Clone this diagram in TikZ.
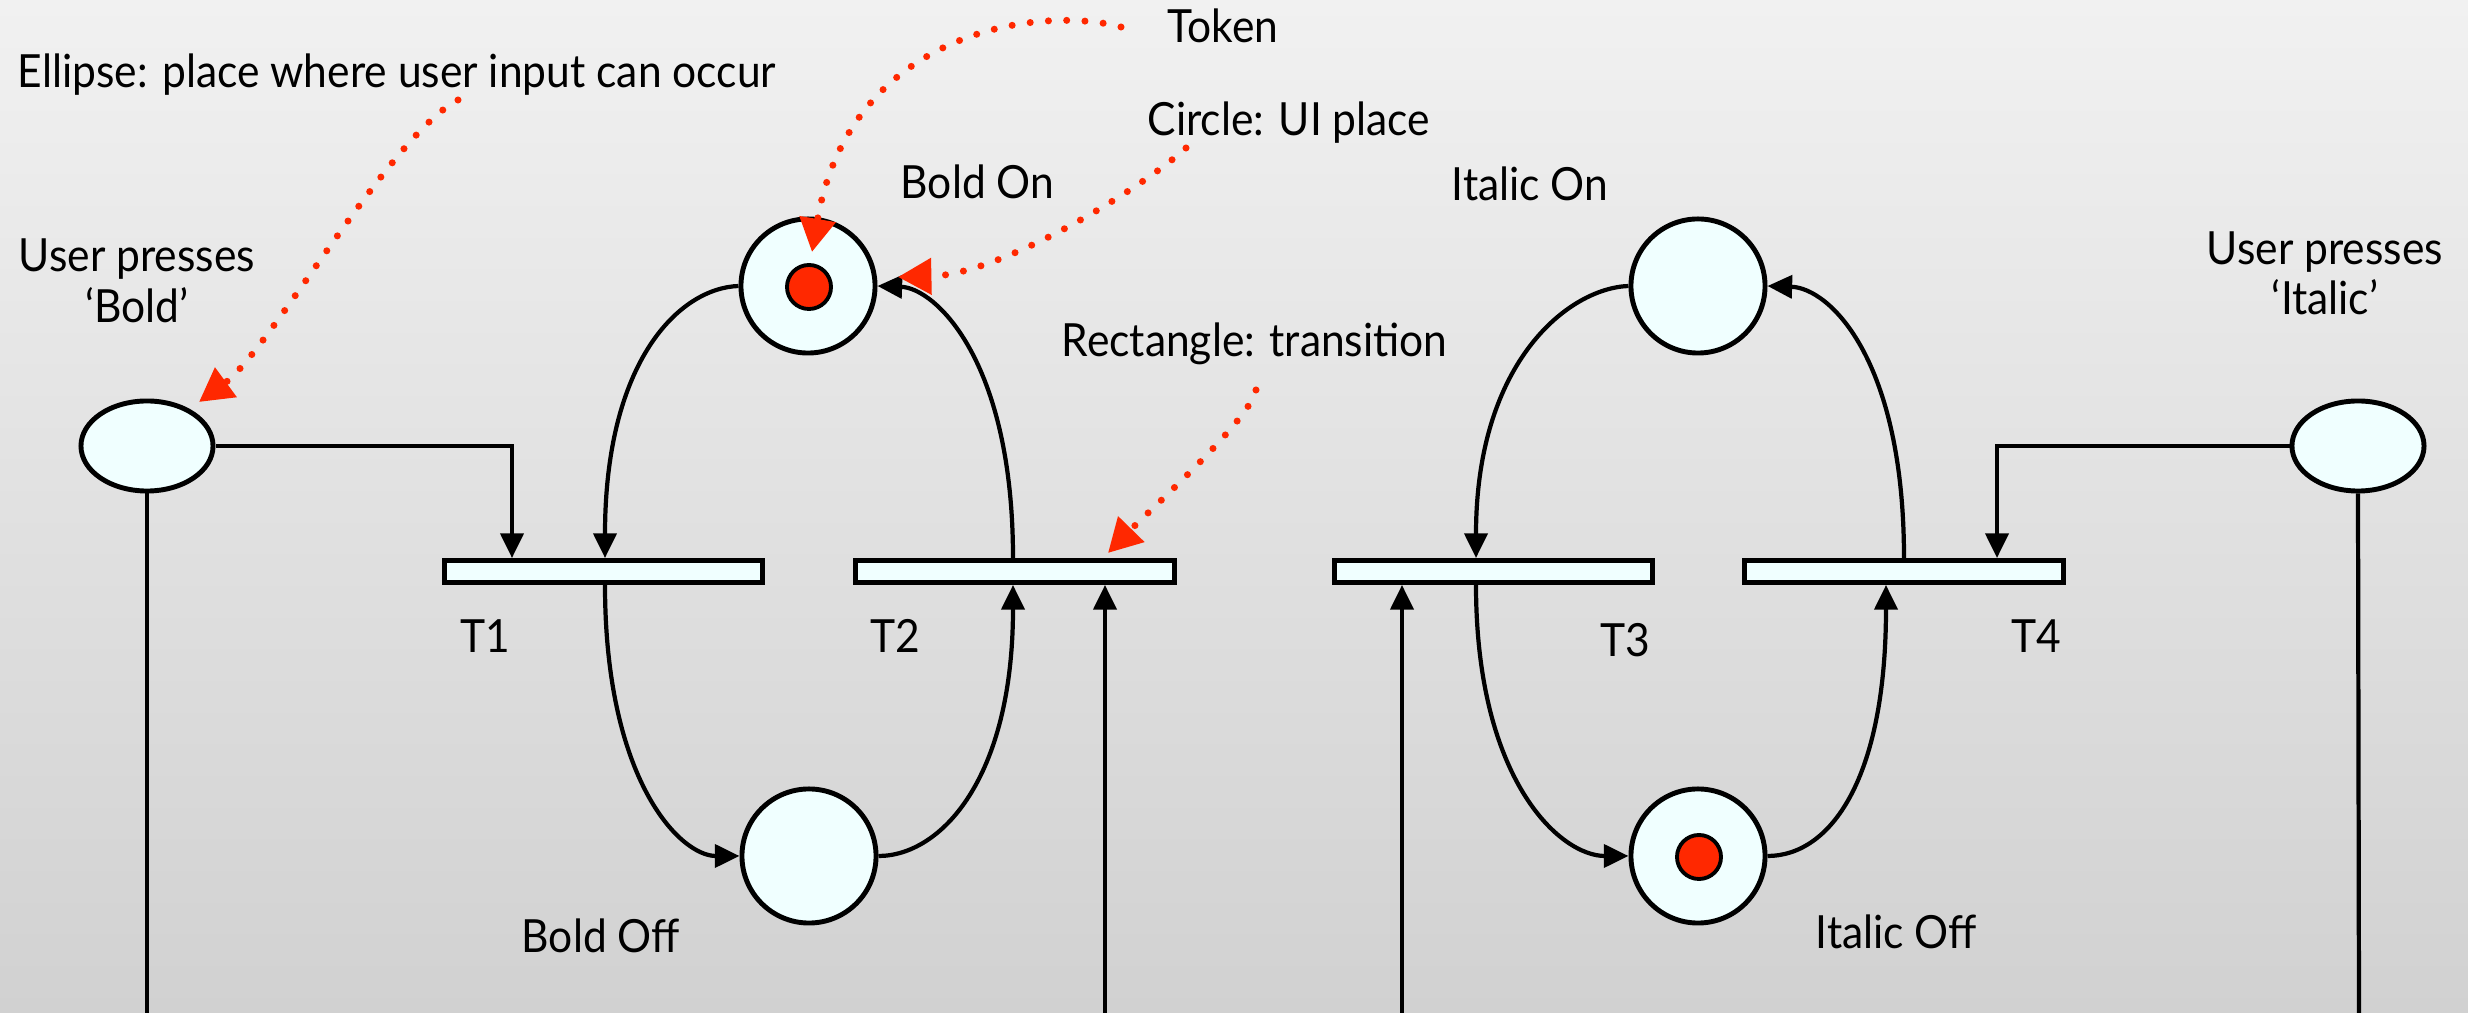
\documentclass[tikz,border=0pt]{standalone}
\usepackage{fontspec}
\setmainfont{Lato}[FakeStretch=0.93]
\usetikzlibrary{arrows.meta,shapes.geometric,calc}
\definecolor{tokred}{RGB}{255,40,0}
\definecolor{placefill}{RGB}{240,255,255}
\definecolor{bgtop}{RGB}{241,241,241}
\definecolor{bgbot}{RGB}{209,209,209}
\begin{document}
\begin{tikzpicture}[x=0.01cm,y=-0.01cm,
  place/.style={circle,draw,line width=1.4pt,fill=placefill,minimum size=1.34cm,inner sep=0pt},
  inplace/.style={ellipse,draw,line width=1.4pt,fill=placefill,minimum width=1.32cm,minimum height=0.90cm,inner sep=0pt},
  trans/.style={rectangle,draw,line width=1.4pt,fill=placefill,minimum width=3.18cm,minimum height=0.22cm,inner sep=0pt},
  token/.style={circle,draw,line width=1.1pt,fill=tokred,minimum size=0.44cm,inner sep=0pt},
  lbl/.style={font=\fontsize{13}{14.5}\selectfont,inner sep=0pt,anchor=base west},
  clbl/.style={font=\fontsize{13}{14.5}\selectfont,inner sep=0pt,anchor=base,align=center},
  arc/.style={line width=1.2pt,-{Triangle[length=7pt,width=6.5pt]}},
  wire/.style={line width=1.2pt},
  pointer/.style={tokred,line width=2pt,line cap=round,dash pattern=on 0pt off 5.2pt,-{Triangle[length=9.5pt,width=10pt]}}
]
\useasboundingbox (0,0) rectangle (2468,1013);
\shade[top color=bgtop,bottom color=bgbot] (0,0) rectangle (2468,1013);

% places and transitions
\node[place] (bon) at (808,286) {};
\node[place] (boff) at (809,856) {};
\node[token] (tk1) at (809,287) {};
\node[inplace] (ub) at (147,446) {};
\node[trans] (t1) at (603.5,571.5) {};
\node[trans] (t2) at (1015,571.5) {};
\node[place] (ion) at (1698,286) {};
\node[place] (ioff) at (1698,856) {};
\node[token] (tk2) at (1699,857) {};
\node[inplace] (ui) at (2358,446) {};
\node[trans] (t3) at (1493.5,571.5) {};
\node[trans] (t4) at (1904,571.5) {};

\coordinate (bl) at (147,1016);
\coordinate (br) at (1105,1016);
\coordinate (il) at (1402,1016);
\coordinate (ir) at (2359,1016);

% labels
\node[lbl] (lell) at (17,88) {Ellipse: place where user input can occur};
\node[lbl] (ltok) at (1167,43) {Token};
\node[lbl] (lcir) at (1147,136) {Circle: UI place};
\node[lbl] (lrec) at (1061,357) {Rectangle: transition};
\node[lbl] (lbon) at (900,199) {Bold On};
\node[lbl] (lboff) at (521,953) {Bold Off};
\node[lbl] (lion) at (1451,201) {Italic On};
\node[lbl] (lioff) at (1815,949) {Italic Off};
\node[lbl] (lt1) at (460,653) {T1};
\node[lbl] (lt2) at (870,653) {T2};
\node[lbl] (lt3) at (1600,657) {T3};
\node[lbl] (lt4) at (2011,653) {T4};
\node[clbl] (lub) at (137,323) {User presses\\‘Bold’};
\node[clbl] (lui) at (2325,315) {User presses\\‘Italic’};

% bold net arcs
\draw[arc] (ub.east) -| ($(t1.north)+(-91.5,0)$);
\draw[arc] (bon.west) .. controls (680,288) and (605,360) .. ($(t1.north)+(1.5,0)$);
\draw[arc] ($(t1.south)+(1.5,0)$) .. controls (605,780) and (680,856) .. (boff.west);
\draw[arc] (boff.east) .. controls (940,856) and (1013,780) .. ($(t2.south)+(-2,0)$);
\draw[arc] ($(t2.north)+(-2,0)$) .. controls (1013,360) and (935,288) .. (bon.east);
\draw[wire] (ub.south) -- (bl) -- (br);
\draw[arc] (br) -- ($(t2.south)+(90,0)$);

% italic net arcs
\draw[arc] (ui.west) -| ($(t4.north)+(93,0)$);
\draw[arc] (ion.west) .. controls (1570,288) and (1476,360) .. ($(t3.north)+(-17.5,0)$);
\draw[arc] ($(t3.south)+(-17.5,0)$) .. controls (1476,780) and (1560,856) .. (ioff.west);
\draw[arc] (ioff.east) .. controls (1830,856) and (1886,780) .. ($(t4.south)+(-18,0)$);
\draw[arc] ($(t4.north)+(0,0)$) .. controls (1904,360) and (1830,288) .. (ion.east);
\draw[wire] (ui.south) -- (ir) -- (il);
\draw[arc] (il) -- ($(t3.south)+(-91.5,0)$);

% red annotation pointers
\draw[pointer] (458,100) .. controls (390,135) and (270,350) .. (199,402);
\draw[pointer] (1121,27) .. controls (1040,5) and (850,30) .. (812,252);
\draw[pointer] (1186,148) .. controls (1140,190) and (1000,275) .. (898,277);
\draw[pointer] (1256,390) .. controls (1250,420) and (1150,510) .. (1108,553);
\end{tikzpicture}
\end{document}
